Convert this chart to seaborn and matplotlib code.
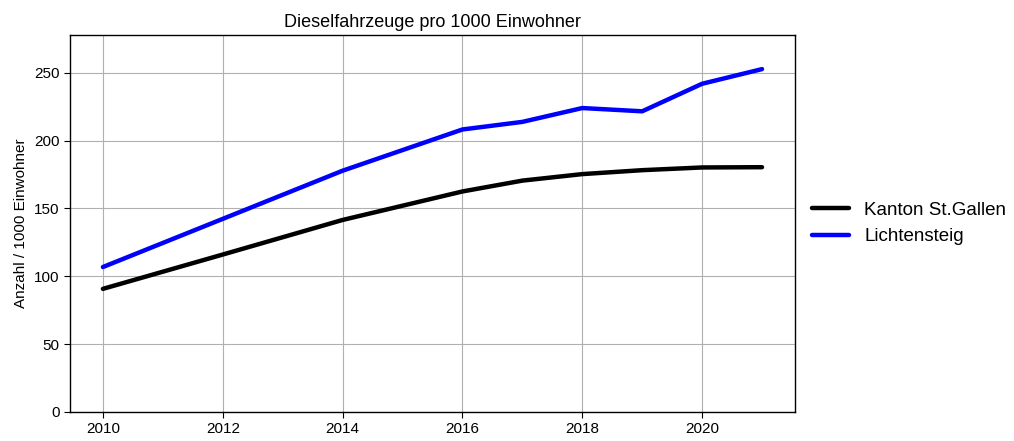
import matplotlib
matplotlib.use("Agg")
import matplotlib.pyplot as plt
import pandas as pd
import seaborn as sns

# Values
years = [2010, 2012, 2014, 2016, 2017, 2018, 2019, 2020, 2021]
kanton = [90.7, 116.0, 141.5, 162.5, 170.5, 175.3, 178.2, 180.2, 180.4]
lichtensteig = [106.8, 142.3, 177.8, 208.2, 213.8, 224.0, 221.6, 241.9, 252.7]

df = pd.DataFrame({
    "Jahr": years * 2,
    "Wert": kanton + lichtensteig,
    "Gebiet": ["Kanton St.Gallen"] * len(years) + ["Lichtensteig"] * len(years),
})

sns.set_style("white")
plt.rcParams["font.family"] = ["Liberation Sans", "DejaVu Sans"]
plt.rcParams["text.color"] = "black"
plt.rcParams["axes.labelcolor"] = "black"
plt.rcParams["xtick.color"] = "black"
plt.rcParams["ytick.color"] = "black"

fig = plt.figure(figsize=(10.14, 4.41), dpi=100)
ax = fig.add_axes([0.069, 0.066, 0.715, 0.855])

sns.lineplot(data=df, x="Jahr", y="Wert", hue="Gebiet",
             palette={"Kanton St.Gallen": "black", "Lichtensteig": "blue"},
             linewidth=3.2, ax=ax, legend=True)

ax.set_ylim(0, max(lichtensteig) * 1.1)
ax.set_xticks([2010, 2012, 2014, 2016, 2018, 2020])
ax.grid(True, color="#b0b0b0", linewidth=0.8)
ax.set_axisbelow(True)
for s in ax.spines.values():
    s.set_color("black")
    s.set_linewidth(1.0)
ax.tick_params(axis="both", labelsize=11, length=4, width=0.8,
               bottom=True, left=True, color="black", labelcolor="black")
ax.set_title("Dieselfahrzeuge pro 1000 Einwohner", fontsize=13, color="black")
ax.set_xlabel("")
ax.set_ylabel("Anzahl / 1000 Einwohner", fontsize=11, color="black")

leg = ax.legend(loc="center left", bbox_to_anchor=(1.0, 0.5), frameon=False,
                fontsize=13.5, handlelength=2.0)
for t in leg.get_texts():
    t.set_color("black")

fig.savefig("out.png", dpi=100)
